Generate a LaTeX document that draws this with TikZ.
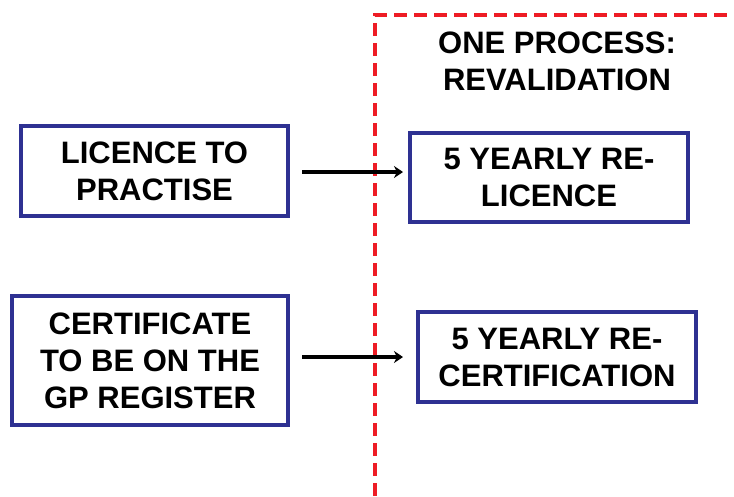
\documentclass[tikz,border=0pt]{standalone}
\usepackage{fontspec}
\setmainfont{Liberation Sans}
\usetikzlibrary{arrows.meta}
\definecolor{boxblue}{HTML}{2E3192}
\definecolor{dashred}{HTML}{EE1C25}
\tikzset{
  boxfont/.style={font=\fontsize{31}{37}\selectfont\bfseries},
  stepbox/.style={draw=boxblue, line width=4pt, fill=white, inner sep=0pt, align=center, boxfont},
  flow/.style={line width=4.5pt, -{Stealth[length=9pt,width=12pt]}},
  zone/.style={draw=dashred, line width=4pt, dash pattern=on 13pt off 7pt}
}
\begin{document}
\begin{tikzpicture}[x=1pt,y=-1pt]
\useasboundingbox (0,0) rectangle (734,496);
\coordinate (zb) at (375,496);
\coordinate (zc) at (375,15);
\coordinate (zr) at (734,15);
\draw[zone] (zb) -- (zc) -- (zr);
\node[stepbox, minimum width=267pt, minimum height=90pt] (lic) at (154.5,171) {LICENCE TO\\PRACTISE};
\node[stepbox, minimum width=276pt, minimum height=129pt] (cert) at (150,360.5) {CERTIFICATE\\TO BE ON THE\\GP REGISTER};
\node[stepbox, minimum width=278pt, minimum height=89pt] (relic) at (549,177.5) {5 YEARLY RE-\\LICENCE};
\node[stepbox, minimum width=278pt, minimum height=90pt] (recert) at (557,357) {5 YEARLY RE-\\CERTIFICATION};
\node[boxfont, align=center] (title) at (557,61) {ONE PROCESS:\\REVALIDATION};
\draw[flow, shorten <=12pt, shorten >=5pt] (lic.east |- 0,172) -- (relic.west |- 0,172);
\draw[flow, shorten <=12pt, shorten >=13pt] (cert.east |- 0,357) -- (recert.west |- 0,357);
\end{tikzpicture}
\end{document}
